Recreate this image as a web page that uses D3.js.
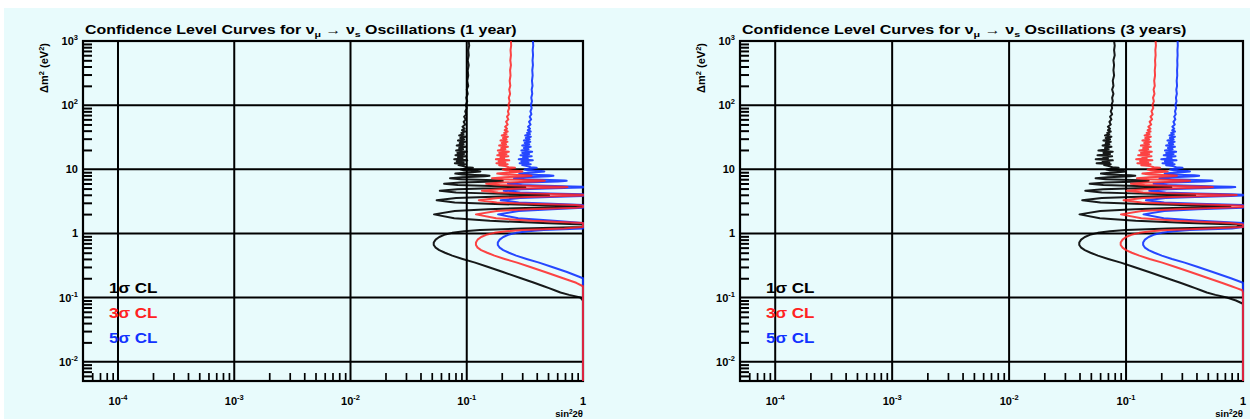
<!DOCTYPE html>
<html><head><meta charset="utf-8">
<script src="https://cdn.jsdelivr.net/npm/d3@7"></script>
<style>
body{margin:0;background:#fff}
text{font-family:"Liberation Sans",Arial,Helvetica,sans-serif;font-weight:bold}
</style>
</head><body>
<svg id="c" width="1252" height="419"></svg>
<script>
// ---------------- DATA ----------------
// Delta m^2 (eV^2) sample points shared by all contours
const dm2 = [
0.005,0.05,0.08,0.09,0.1, 0.11,0.12,0.13,0.14,0.15, 0.17,0.2,0.25,0.3,0.35, 0.4,0.45,0.5,0.55,0.6,
0.66,0.72,0.8,0.88,0.95, 1.02,1.08,1.13,1.19,1.26, 1.32,1.38,1.45,1.57,1.72, 1.98,2.24,2.39,2.51,2.58,
2.64,2.7,2.77,2.89,3.04, 3.3,3.56,3.71,3.83,3.9, 3.96,4.02,4.09,4.21,4.36, 4.62,4.88,5.03,5.15,5.22,
5.28,5.34,5.41,5.53,5.68, 5.94,6.2,6.35,6.47,6.54, 6.6,6.66,6.73,6.85,7.0, 7.26,7.52,7.67,7.79,7.92,
8.05,8.17,8.32,8.58,8.84, 8.99,9.11,9.24,9.37,9.49, 9.64,9.9,10.3,10.56,10.8, 11.2,
11.6,12.0,12.4,12.8,13.3, 13.8,14.3,14.8,15.4,16, 16.6,17.3,18,18.8,19.6, 20.5,21.4,22.4,23.4,24.5,
25.6,26.8,28,29.3,30.7, 32.2,33.7,35.3,37,38.8, 40.7,
43,46,50,55,60, 66,72,80,90,100, 115,130,150,175,200, 240,290,350,420,500, 600,720,850,1000];

// sin^2(2theta) contour values, 1 year
const cl1sigma_1yr = [
1,1,1,1,0.95, 0.76,0.64,0.57,0.51,0.46, 0.38,0.293,0.205,0.153,0.118, 0.092,0.075,0.065,0.058,0.054,
0.052,0.052,0.054,0.058,0.064, 0.075,0.095,0.13,0.3,1, 1,1,0.45,0.158,0.078, 0.0523,0.0788,0.153,0.382,0.748,
1,0.748,0.382,0.153,0.0788, 0.0551,0.081,0.145,0.293,0.439, 0.51,0.439,0.293,0.145,0.081, 0.0586,0.0835,0.1365,0.229,0.293,
0.319,0.293,0.229,0.1365,0.0835, 0.0638,0.0877,0.125,0.172,0.196, 0.204,0.196,0.172,0.125,0.0877, 0.0718,0.0916,0.117,0.143,0.157,
0.143,0.117,0.0916,0.0797,0.095, 0.111,0.124,0.131,0.124,0.111, 0.095,0.0887,0.1,0.113,0.1, 0.093,
0.085,0.097,0.079,0.094,0.082, 0.101,0.078,0.092,0.084,0.099, 0.08,0.095,0.083,0.1,0.081, 0.093,0.086,0.098,0.082,0.094,
0.087,0.097,0.084,0.095,0.088, 0.098,0.086,0.094,0.09,0.097, 0.091,
0.096,0.092,0.097,0.094,0.098, 0.095,0.099,0.097,0.1,0.098, 0.101,0.099,0.102,0.1,0.103, 0.101,0.103,0.102,0.104,0.102, 0.104,0.103,0.105,0.104];

const cl3sigma_1yr = [
1,1,1,1,1, 1,1,1,1,1, 0.874,0.674,0.472,0.352,0.271, 0.212,0.173,0.15,0.133,0.124,
0.12,0.12,0.124,0.133,0.147, 0.173,0.219,0.299,0.69,1, 1,1,1,0.363,0.179, 0.12,0.181,0.352,0.879,1,
1,1,0.879,0.352,0.181, 0.127,0.186,0.334,0.674,1, 1,1,0.674,0.334,0.186, 0.135,0.192,0.314,0.527,0.674,
0.734,0.674,0.527,0.314,0.192, 0.147,0.202,0.288,0.396,0.451, 0.469,0.451,0.396,0.288,0.202, 0.165,0.211,0.269,0.329,0.361,
0.329,0.269,0.211,0.183,0.219, 0.255,0.285,0.301,0.285,0.255, 0.219,0.204,0.23,0.26,0.23, 0.214,
0.19,0.225,0.18,0.215,0.188, 0.232,0.178,0.21,0.195,0.228, 0.183,0.22,0.19,0.23,0.185, 0.215,0.198,0.226,0.19,0.218,
0.2,0.224,0.195,0.22,0.205, 0.226,0.2,0.22,0.21,0.225, 0.212,
0.222,0.214,0.225,0.218,0.228, 0.222,0.23,0.226,0.232,0.228, 0.234,0.23,0.236,0.232,0.237, 0.234,0.238,0.236,0.24,0.237, 0.24,0.238,0.241,0.24];

const cl5sigma_1yr = [
1,1,1,1,1, 1,1,1,1,1, 1,1,0.728,0.543,0.419, 0.327,0.266,0.231,0.206,0.192,
0.185,0.185,0.192,0.206,0.227, 0.266,0.337,0.46,1,1, 1,1,1,0.561,0.277, 0.186,0.28,0.543,1,1,
1,1,1,0.543,0.28, 0.196,0.288,0.515,1,1, 1,1,1,0.515,0.288, 0.208,0.296,0.485,0.813,1,
1,1,0.813,0.485,0.296, 0.226,0.311,0.444,0.611,0.696, 0.724,0.696,0.611,0.444,0.311, 0.255,0.325,0.415,0.508,0.557,
0.508,0.415,0.325,0.283,0.337, 0.394,0.44,0.465,0.44,0.394, 0.337,0.315,0.355,0.4,0.355, 0.33,
0.3,0.355,0.285,0.34,0.295, 0.37,0.28,0.335,0.305,0.362, 0.29,0.345,0.3,0.365,0.295, 0.34,0.31,0.355,0.3,0.345,
0.315,0.352,0.31,0.348,0.322, 0.356,0.318,0.35,0.33,0.355, 0.335,
0.35,0.337,0.354,0.343,0.358, 0.348,0.36,0.353,0.362,0.356, 0.364,0.359,0.366,0.362,0.368, 0.364,0.369,0.366,0.371,0.368, 0.372,0.369,0.373,0.371];

// sin^2(2theta) contour values, 3 years
const cl1sigma_3yr = [
1,1,1,0.87,0.727, 0.581,0.49,0.436,0.39,0.352, 0.291,0.224,0.157,0.117,0.0903, 0.0704,0.0574,0.0497,0.0444,0.0413,
0.0398,0.0398,0.0413,0.0444,0.049, 0.0574,0.0727,0.0995,0.23,0.88, 1,0.88,0.344,0.121,0.0597, 0.04,0.0603,0.117,0.292,0.572,
0.78,0.572,0.292,0.117,0.0603, 0.0422,0.062,0.111,0.224,0.336, 0.39,0.336,0.224,0.111,0.062, 0.0448,0.0639,0.104,0.175,0.224,
0.244,0.224,0.175,0.104,0.0639, 0.0488,0.0671,0.0956,0.132,0.15, 0.156,0.15,0.132,0.0956,0.0671, 0.0549,0.0701,0.0895,0.109,0.12,
0.109,0.0895,0.0701,0.061,0.0727, 0.0849,0.0949,0.1,0.0949,0.0849, 0.0727,0.0679,0.0765,0.0864,0.0765, 0.0711,
0.065,0.074,0.056,0.072,0.063, 0.077,0.055,0.07,0.064,0.076, 0.057,0.073,0.064,0.077,0.058, 0.071,0.066,0.075,0.063,0.072,
0.067,0.074,0.064,0.073,0.067, 0.075,0.066,0.072,0.069,0.074, 0.07,
0.073,0.07,0.074,0.072,0.075, 0.073,0.076,0.074,0.076,0.075, 0.077,0.076,0.078,0.076,0.078, 0.077,0.079,0.078,0.079,0.078, 0.08,0.079,0.08,0.079];

const cl3sigma_3yr = [
1,1,1,1,1, 1,1,0.986,0.882,0.796, 0.657,0.507,0.355,0.265,0.204, 0.159,0.13,0.112,0.1,0.0934,
0.09,0.09,0.0934,0.1,0.111, 0.13,0.164,0.225,0.519,1, 1,1,0.779,0.273,0.135, 0.0905,0.136,0.265,0.661,1,
1,1,0.661,0.265,0.136, 0.0953,0.14,0.251,0.507,0.759, 0.882,0.759,0.507,0.251,0.14, 0.101,0.144,0.236,0.396,0.507,
0.552,0.507,0.396,0.236,0.144, 0.11,0.152,0.216,0.298,0.339, 0.353,0.339,0.298,0.216,0.152, 0.124,0.158,0.202,0.247,0.272,
0.247,0.202,0.158,0.138,0.164, 0.192,0.215,0.227,0.215,0.192, 0.164,0.153,0.173,0.195,0.173, 0.161,
0.135,0.162,0.125,0.155,0.132, 0.168,0.122,0.15,0.138,0.165, 0.127,0.158,0.134,0.166,0.13, 0.155,0.14,0.163,0.134,0.157,
0.143,0.162,0.138,0.158,0.146, 0.163,0.144,0.159,0.15,0.162, 0.153,
0.162,0.155,0.164,0.159,0.167, 0.162,0.169,0.165,0.171,0.168, 0.173,0.17,0.175,0.172,0.176, 0.174,0.177,0.176,0.178,0.177, 0.179,0.178,0.18,0.179];

const cl5sigma_3yr = [
1,1,1,1,1, 1,1,1,1,1, 1,0.788,0.551,0.412,0.317, 0.247,0.202,0.175,0.156,0.145,
0.14,0.14,0.145,0.156,0.172, 0.202,0.256,0.35,0.807,1, 1,1,1,0.425,0.21, 0.141,0.212,0.412,1,1,
1,1,1,0.412,0.212, 0.148,0.218,0.39,0.788,1, 1,1,0.788,0.39,0.218, 0.158,0.225,0.367,0.616,0.788,
0.858,0.788,0.616,0.367,0.225, 0.172,0.236,0.336,0.463,0.527, 0.549,0.527,0.463,0.336,0.236, 0.193,0.246,0.315,0.385,0.422,
0.385,0.315,0.246,0.214,0.256, 0.299,0.334,0.352,0.334,0.299, 0.256,0.239,0.269,0.304,0.269, 0.25,
0.22,0.26,0.205,0.25,0.215, 0.27,0.2,0.245,0.225,0.265, 0.21,0.255,0.22,0.268,0.215, 0.25,0.228,0.262,0.22,0.253,
0.232,0.26,0.226,0.255,0.237, 0.262,0.235,0.256,0.243,0.262, 0.248,
0.258,0.249,0.261,0.254,0.264, 0.258,0.266,0.262,0.268,0.264, 0.27,0.267,0.272,0.269,0.273, 0.271,0.274,0.273,0.275,0.274, 0.276,0.275,0.277,0.276];

const xTickExponents = [-4,-3,-2,-1,0];
const yTickExponents = [-2,-1,0,1,2,3];
const legendLabels = ["1σ CL","3σ CL","5σ CL"];
const seriesColors = ["#000000","#ff2222","#1133ff"];
const panelYears = ["1 year","3 years"];

// ---------------- DRAW ----------------
const svg = d3.select("#c");
svg.append("rect").attr("x",4).attr("y",8).attr("width",1246).attr("height",411).attr("fill","#e8fbfc");

const TOP = 41, BOTTOM = 381;
const panels = [
  {left:83, right:583, years:panelYears[0], series:[cl1sigma_1yr, cl3sigma_1yr, cl5sigma_1yr], titleW:432},
  {left:740, right:1243, years:panelYears[1], series:[cl1sigma_3yr, cl3sigma_3yr, cl5sigma_3yr], titleW:445}
];

function minors(lo, hi){
  const out=[];
  for(let d=-6; d<=3; d++) for(let k=2;k<=9;k++){const v=k*Math.pow(10,d); if(v>lo*1.0001 && v<hi*0.9999) out.push(v);}
  return out;
}

function powText(sel, e, supSize){
  if(e===0){ sel.text("1"); return; }
  sel.append("tspan").text("10");
  if(e!==1) sel.append("tspan").attr("dy",-5).attr("font-size",supSize).text(e<0 ? "-"+(-e) : String(e));
}

panels.forEach(p=>{
  const x = d3.scaleLog().domain([5e-5,1]).range([p.left,p.right]);
  const y = d3.scaleLog().domain([5e-3,1e3]).range([BOTTOM,TOP]);
  const g = svg.append("g");

  // grid at major decades
  const xMaj = xTickExponents.map(e=>Math.pow(10,e)).filter(v=>v<1);
  const yMaj = yTickExponents.map(e=>Math.pow(10,e)).filter(v=>v<1e3);
  g.selectAll(".gx").data(xMaj).join("line")
    .attr("x1",d=>x(d)).attr("x2",d=>x(d)).attr("y1",TOP).attr("y2",BOTTOM)
    .attr("stroke","#000").attr("stroke-width",2);
  g.selectAll(".gy").data(yMaj).join("line")
    .attr("x1",p.left).attr("x2",p.right).attr("y1",d=>y(d)).attr("y2",d=>y(d))
    .attr("stroke","#000").attr("stroke-width",2);

  // minor ticks via d3 axes
  const ax = g.append("g").attr("transform",`translate(0,${BOTTOM})`)
    .call(d3.axisBottom(x).tickValues(minors(5e-5,1)).tickSize(-8).tickFormat(""));
  ax.select(".domain").remove();
  ax.selectAll("line").attr("stroke","#000").attr("stroke-width",1.7);
  const ay = g.append("g").attr("transform",`translate(${p.left},0)`)
    .call(d3.axisLeft(y).tickValues(minors(5e-3,1e3)).tickSize(-9).tickFormat(""));
  ay.select(".domain").remove();
  ay.selectAll("line").attr("stroke","#000").attr("stroke-width",2);

  // frame
  g.append("rect").attr("x",p.left).attr("y",TOP).attr("width",p.right-p.left).attr("height",BOTTOM-TOP)
    .attr("fill","none").attr("stroke","#000").attr("stroke-width",2.2);

  // curves
  const line = d3.line().x(d=>x(d[1])).y(d=>y(d[0]));
  const order = [0,2,1];
  order.forEach(i=>{
    const pts = dm2.map((m,j)=>[m, p.series[i][j]]);
    g.append("path").attr("d",line(pts)).attr("fill","none")
      .attr("stroke",seriesColors[i]).attr("stroke-width",2)
      .attr("stroke-linejoin","round").attr("stroke-opacity", i===1?0.85:0.9);
  });

  // x tick labels
  xTickExponents.forEach(e=>{
    const t = g.append("text").attr("x",x(Math.pow(10,e))).attr("y",405)
      .attr("text-anchor","middle").attr("font-size",11).attr("fill","#000");
    powText(t,e,7.5);
  });
  // y tick labels
  yTickExponents.forEach(e=>{
    const t = g.append("text").attr("x",p.left-5).attr("y",y(Math.pow(10,e))+4)
      .attr("text-anchor","end").attr("font-size",11).attr("fill","#000");
    powText(t,e,7.5);
  });

  // axis titles
  const xt = g.append("text").attr("x",p.right).attr("y",417).attr("text-anchor","end")
    .attr("font-size",9.5).attr("fill","#000");
  xt.append("tspan").text("sin");
  xt.append("tspan").attr("dy",-3).attr("font-size",6.5).text("2");
  xt.append("tspan").attr("dy",3).text("2θ");

  const yt = g.append("text").attr("transform",`translate(${p.left-35},${TOP+2}) rotate(-90)`)
    .attr("text-anchor","end").attr("font-size",11).attr("fill","#000");
  yt.append("tspan").text("Δm");
  yt.append("tspan").attr("dy",-4).attr("font-size",7.5).text("2");
  yt.append("tspan").attr("dy",4).text(" (eV");
  yt.append("tspan").attr("dy",-4).attr("font-size",7.5).text("2");
  yt.append("tspan").attr("dy",4).text(")");

  // title
  const tt = g.append("text").attr("font-size",12).attr("fill","#000");
  tt.append("tspan").text("Confidence Level Curves for ν");
  tt.append("tspan").attr("dy",3).attr("font-size",8).text("μ");
  tt.append("tspan").attr("dy",-3).text(" → ν");
  tt.append("tspan").attr("dy",3).attr("font-size",8).text("s");
  tt.append("tspan").attr("dy",-3).text(" Oscillations ("+p.years+")");
  const tw = tt.node().getBBox().width;
  tt.attr("transform",`translate(${p.left+2},34) scale(${p.titleW/tw},1)`);

  // legend
  legendLabels.forEach((lab,i)=>{
    const lt = g.append("text").attr("font-size",14).attr("fill",seriesColors[i]).text(lab);
    const w = lt.node().getBBox().width;
    lt.attr("transform",`translate(${p.left+26},${293+25*i}) scale(${49/w},1)`);
  });
});
</script>
</body></html>
